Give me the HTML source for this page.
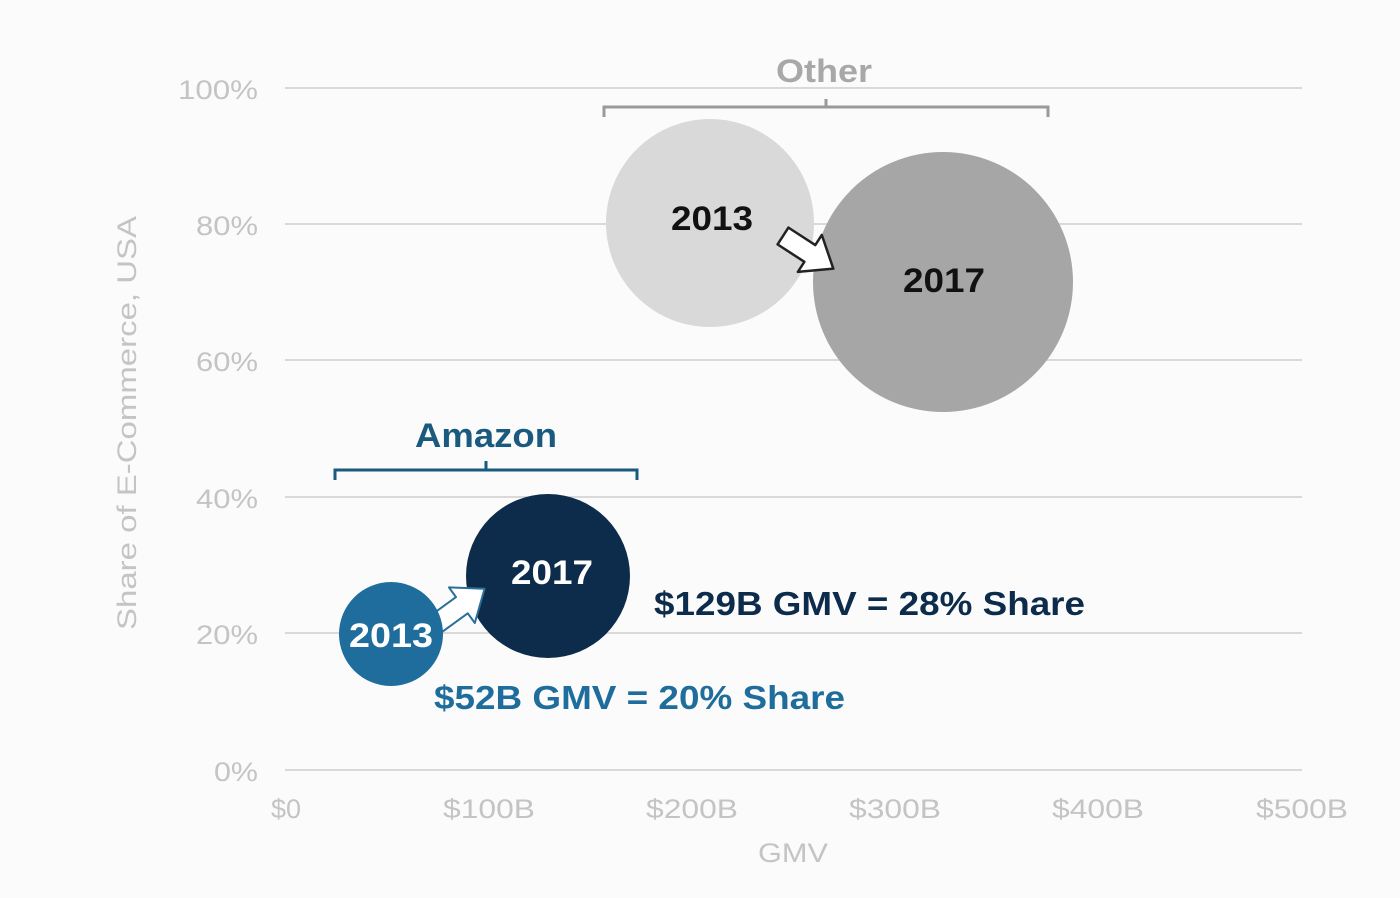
<!DOCTYPE html>
<html><head><meta charset="utf-8"><style>
html,body{margin:0;padding:0;background:#fbfbfb;}
svg{display:block;font-family:"Liberation Sans",Arial,sans-serif;}
</style></head><body>
<svg width="1400" height="898" viewBox="0 0 1400 898">
<rect width="1400" height="898" fill="#fbfbfb"/>
<g stroke="#d9d9d9" stroke-width="2">
<line x1="285" y1="88" x2="1302" y2="88"/>
<line x1="285" y1="224" x2="1302" y2="224"/>
<line x1="285" y1="360" x2="1302" y2="360"/>
<line x1="285" y1="497" x2="1302" y2="497"/>
<line x1="285" y1="633" x2="1302" y2="633"/>
<line x1="285" y1="770" x2="1302" y2="770"/>
</g>
<g fill="#c4c4c4" font-size="27">
<text x="178" y="99" textLength="80" lengthAdjust="spacingAndGlyphs">100%</text>
<text x="196" y="235" textLength="62" lengthAdjust="spacingAndGlyphs">80%</text>
<text x="196" y="371" textLength="62" lengthAdjust="spacingAndGlyphs">60%</text>
<text x="196" y="508" textLength="62" lengthAdjust="spacingAndGlyphs">40%</text>
<text x="196" y="644" textLength="62" lengthAdjust="spacingAndGlyphs">20%</text>
<text x="214" y="781" textLength="44" lengthAdjust="spacingAndGlyphs">0%</text>
</g>
<g fill="#c4c4c4" font-size="27" text-anchor="middle">
<text x="286" y="818">$0</text>
<text x="489" y="818" textLength="92" lengthAdjust="spacingAndGlyphs">$100B</text>
<text x="692" y="818" textLength="92" lengthAdjust="spacingAndGlyphs">$200B</text>
<text x="895" y="818" textLength="92" lengthAdjust="spacingAndGlyphs">$300B</text>
<text x="1098" y="818" textLength="92" lengthAdjust="spacingAndGlyphs">$400B</text>
<text x="1302" y="818" textLength="92" lengthAdjust="spacingAndGlyphs">$500B</text>
<text x="793" y="862" textLength="70" lengthAdjust="spacingAndGlyphs">GMV</text>
<text transform="translate(136,423) rotate(-90)" textLength="414" lengthAdjust="spacingAndGlyphs">Share of E-Commerce, USA</text>
</g>
<text x="824" y="82" fill="#a8a8a8" font-size="32" font-weight="bold" text-anchor="middle" textLength="96" lengthAdjust="spacingAndGlyphs">Other</text>
<path d="M604,117 V107 H1048 V117 M826,107 V99" fill="none" stroke="#9a9a9a" stroke-width="3"/>
<circle cx="710" cy="223" r="104" fill="#d9d9d9"/>
<circle cx="943" cy="282" r="130" fill="#a6a6a6"/>
<text x="712" y="230" font-size="34" font-weight="bold" text-anchor="middle" fill="#111" textLength="82" lengthAdjust="spacingAndGlyphs">2013</text>
<text x="944" y="292" font-size="34" font-weight="bold" text-anchor="middle" fill="#111" textLength="82" lengthAdjust="spacingAndGlyphs">2017</text>
<polygon transform="translate(783,236) rotate(33)" points="0,-10 32,-10 32,-22 60,0 32,22 32,10 0,10" fill="#fff" stroke="#222" stroke-width="2.5" stroke-linejoin="round"/>
<text x="486" y="447" fill="#1a5a7e" font-size="34" font-weight="bold" text-anchor="middle" textLength="142" lengthAdjust="spacingAndGlyphs">Amazon</text>
<path d="M335,480 V470 H637 V480 M486,470 V461" fill="none" stroke="#1a5a7e" stroke-width="3"/>
<circle cx="548" cy="576" r="82" fill="#0d2c4b"/>
<polygon transform="translate(436,624) rotate(-36)" points="0,-10 32,-10 32,-22 60,0 32,22 32,10 0,10" fill="#fff" stroke="#2a6f9a" stroke-width="2" stroke-linejoin="round"/>
<circle cx="391" cy="634" r="52" fill="#1e6d9c"/>
<text x="391" y="647" font-size="34" font-weight="bold" text-anchor="middle" fill="#fff" textLength="84" lengthAdjust="spacingAndGlyphs">2013</text>
<text x="552" y="584" font-size="34" font-weight="bold" text-anchor="middle" fill="#fff" textLength="82" lengthAdjust="spacingAndGlyphs">2017</text>
<text x="654" y="615" font-size="33" font-weight="bold" fill="#0d2c4b" textLength="431" lengthAdjust="spacingAndGlyphs">$129B GMV = 28% Share</text>
<text x="434" y="709" font-size="33" font-weight="bold" fill="#1e6d9c" textLength="411" lengthAdjust="spacingAndGlyphs">$52B GMV = 20% Share</text>
</svg>
</body></html>
